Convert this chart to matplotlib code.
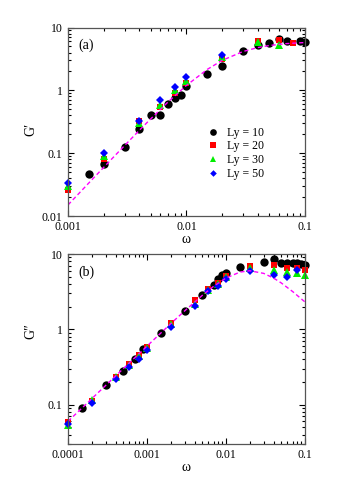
import numpy as np
import matplotlib
matplotlib.use('Agg')
import matplotlib.pyplot as plt
from matplotlib.ticker import FixedLocator, FixedFormatter, LogLocator, NullFormatter

plt.rcParams['font.family'] = ['Liberation Serif', 'DejaVu Serif']

# ---- panel (a): G' ----
a_x10 = [0.0015, 0.002, 0.003, 0.004, 0.005, 0.006, 0.007, 0.008, 0.009, 0.01,
         0.015, 0.02, 0.03, 0.04, 0.05, 0.06, 0.07, 0.09, 0.1]
a_y10 = [0.047, 0.067, 0.127, 0.24, 0.41, 0.41, 0.60, 0.75, 0.83, 1.17,
         1.82, 2.48, 4.3, 5.3, 5.75, 6.6, 6.0, 6.0, 5.95]
a_x20 = [0.001, 0.002, 0.004, 0.006, 0.008, 0.01, 0.02, 0.04, 0.06, 0.08]
a_y20 = [0.026, 0.08, 0.32, 0.54, 0.9, 1.3, 3.2, 6.1, 6.3, 5.7]
a_x30 = [0.001, 0.002, 0.004, 0.006, 0.008, 0.01, 0.02, 0.04, 0.06]
a_y30 = [0.0295, 0.091, 0.30, 0.59, 1.0, 1.43, 3.4, 5.8, 5.2]
a_x50 = [0.001, 0.002, 0.004, 0.006, 0.008, 0.01, 0.02]
a_y50 = [0.034, 0.1, 0.33, 0.71, 1.12, 1.66, 3.6]
a_fit_x = [0.001, 0.0015, 0.002, 0.003, 0.004, 0.005, 0.007, 0.01, 0.015,
           0.02, 0.03, 0.04, 0.05, 0.07, 0.1]
a_fit_y = [0.015, 0.0336, 0.0594, 0.132, 0.231, 0.353, 0.655, 1.2, 2.16,
           3.0, 4.15, 4.8, 5.17, 5.55, 5.77]

# ---- panel (b): G'' ----
b_x10 = [1.5e-4, 3e-4, 5e-4, 7e-4, 9e-4, 1.5e-3, 3e-3, 5e-3, 7e-3, 8e-3, 9e-3,
         1e-2, 1.5e-2, 3e-2, 4e-2, 5e-2, 6e-2, 7e-2, 8e-2, 9e-2, 0.1]
b_y10 = [0.089, 0.184, 0.28, 0.41, 0.54, 0.9, 1.77, 2.9, 3.9, 4.6, 5.2,
         5.6, 6.8, 7.8, 8.5, 7.7, 7.5, 7.6, 7.7, 7.4, 7.2]
b_x = [1e-4, 2e-4, 4e-4, 6e-4, 8e-4, 1e-3, 2e-3, 4e-3, 6e-3, 8e-3, 1e-2,
       2e-2, 4e-2, 6e-2, 8e-2, 0.1]
b_y20 = [0.059, 0.113, 0.236, 0.35, 0.45, 0.58, 1.2, 2.46, 3.46, 4.15, 5.1,
         7.0, 7.2, 6.5, 6.5, 6.2]
b_y30 = [0.054, 0.115, 0.23, 0.34, 0.44, 0.57, 1.17, 2.2, 3.3, 4.0, 4.9,
         6.5, 6.1, 5.7, 5.6, 5.2]
b_x50 = b_x[:-1]
b_y50 = [0.055, 0.104, 0.22, 0.32, 0.41, 0.53, 1.09, 2.05, 3.2, 3.8, 4.6,
         5.9, 5.2, 5.0, 6.1]
b_fit_x = [1e-4, 2e-4, 5e-4, 1e-3, 2e-3, 3e-3, 5e-3, 7e-3, 1e-2, 1.5e-2,
           2e-2, 3e-2, 4e-2, 5e-2, 7e-2, 0.1]
b_fit_y = [0.060, 0.12, 0.30, 0.599, 1.19, 1.76, 2.82, 3.74, 4.8, 5.76,
           6.0, 5.54, 4.8, 4.14, 3.17, 2.31]

labels = ['Ly = 10', 'Ly = 20', 'Ly = 30', 'Ly = 50']
a_xticks = [0.001, 0.01, 0.1]
a_xticklabels = ['0.001', '0.01', '0.1']
a_yticks = [0.01, 0.1, 1, 10]
a_yticklabels = ['0.01', '0.1', '1', '10']
b_xticks = [0.0001, 0.001, 0.01, 0.1]
b_xticklabels = ['0.0001', '0.001', '0.01', '0.1']
b_yticks = [0.1, 1, 10]
b_yticklabels = ['0.1', '1', '10']

styles = [dict(marker='o', color='black', ms=6),
          dict(marker='s', color='#ff0000', ms=5),
          dict(marker='^', color='#00ee00', ms=5.5),
          dict(marker='D', color='#0000ff', ms=4.2)]


def style_axes(ax, xlim, ylim, xt, xtl, yt, ytl):
    ax.set_xscale('log')
    ax.set_yscale('log')
    ax.set_xlim(*xlim)
    ax.set_ylim(*ylim)
    ax.xaxis.set_major_locator(FixedLocator(xt))
    ax.xaxis.set_major_formatter(FixedFormatter(xtl))
    ax.yaxis.set_major_locator(FixedLocator(yt))
    ax.yaxis.set_major_formatter(FixedFormatter(ytl))
    for axis in (ax.xaxis, ax.yaxis):
        axis.set_minor_locator(LogLocator(base=10, subs=np.arange(2, 10)))
        axis.set_minor_formatter(NullFormatter())
    ax.tick_params(which='both', direction='in', top=True, right=True,
                   labelsize=8.5, width=0.8)
    ax.tick_params(which='major', length=4)
    ax.tick_params(which='minor', length=2)
    ax.tick_params(axis='y', pad=4)
    for sp in ax.spines.values():
        sp.set_linewidth(0.9)
        sp.set_color('#555555')


fig = plt.figure(figsize=(3.39, 4.96), dpi=100)

ax1 = fig.add_axes([0.2006, 0.5645, 0.699, 0.380])
for (xs, ys), st, lab in zip([(a_x10, a_y10), (a_x20, a_y20), (a_x30, a_y30), (a_x50, a_y50)],
                             styles, labels):
    ax1.plot(xs, ys, linestyle='none', label=lab, markeredgewidth=0, clip_on=False, **st)
ax1.plot(a_fit_x, a_fit_y, '--', color='#ff00ff', lw=1, dashes=(3, 2))
style_axes(ax1, (0.001, 0.1), (0.01, 10), a_xticks, a_xticklabels, a_yticks, a_yticklabels)
ax1.set_xlabel('ω', fontsize=10, labelpad=0)
ax1.set_ylabel('G′', fontsize=10)
ax1.yaxis.set_label_coords(-0.13, 0.46)
ax1.text(0.042, 0.908, '(a)', transform=ax1.transAxes, fontsize=10, ha='left', va='center')
ax1.legend(loc='upper left', bbox_to_anchor=(0.587, 0.474), frameon=False, fontsize=8.5,
           borderpad=0, borderaxespad=0, handlelength=1.0, handletextpad=0.7,
           labelspacing=0.15, markerscale=0.8)

ax2 = fig.add_axes([0.2006, 0.1048, 0.699, 0.383])
for (xs, ys), st in zip([(b_x10, b_y10), (b_x, b_y20), (b_x, b_y30), (b_x50, b_y50)], styles):
    ax2.plot(xs, ys, linestyle='none', markeredgewidth=0, clip_on=False, **st)
ax2.plot(b_fit_x, b_fit_y, '--', color='#ff00ff', lw=1, dashes=(3, 2))
style_axes(ax2, (0.0001, 0.1), (0.03, 10), b_xticks, b_xticklabels, b_yticks, b_yticklabels)
ax2.set_xlabel('ω', fontsize=10, labelpad=0)
ax2.set_ylabel('G″', fontsize=10)
ax2.yaxis.set_label_coords(-0.13, 0.595)
ax2.text(0.042, 0.905, '(b)', transform=ax2.transAxes, fontsize=10, ha='left', va='center')

fig.savefig('out.png', dpi=100)
